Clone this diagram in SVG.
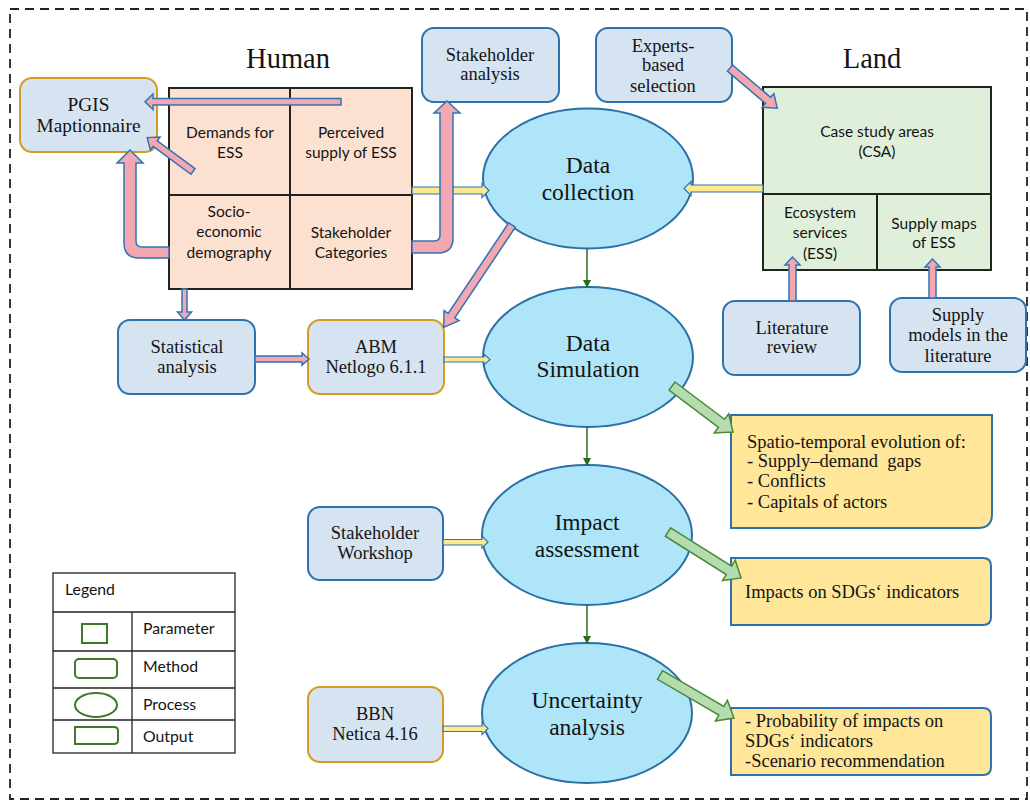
<svg xmlns="http://www.w3.org/2000/svg" width="1030" height="801" viewBox="0 0 1030 801">
<style>
.sr{font-family:"Liberation Serif",serif;fill:#141414;text-anchor:middle}
.b{font-size:18.5px}
.e{font-size:23.5px}
.sn{font-family:Lato,"Liberation Sans",sans-serif;fill:#141414;text-anchor:middle;font-size:15.5px}
.out{font-family:"Liberation Serif",serif;fill:#141414;font-size:18.5px}
.lg{font-family:Lato,"Liberation Sans",sans-serif;fill:#141414;font-size:15.8px}
.box{fill:#d6e3f1;stroke:#2e72ad;stroke-width:2}
.obox{fill:#d6e3f1;stroke:#d69b1e;stroke-width:2}
.ell{fill:#aee5f8;stroke:#2a6fa5;stroke-width:2}
.hum{fill:#fde1d0;stroke:#222;stroke-width:2}
.land{fill:#e0efd9;stroke:#222;stroke-width:2}
.res{fill:#ffe699;stroke:#2e72ad;stroke-width:2}
.pk{fill:#f4a7b0;stroke:#2e75b6;stroke-width:1.5}
.yl{fill:#fde98e;stroke:#2e75b6;stroke-width:1.2}
.gb{fill:#b5dcae;stroke:#4a8a3a;stroke-width:1.5}
.gl{stroke:#2d6a1e;stroke-width:1.5;fill:none}
.lgs{fill:none;stroke:#3a7a2a;stroke-width:2}
.cell{fill:none;stroke:#222;stroke-width:1.3}
</style>
<defs>
<marker id="ga" markerWidth="8" markerHeight="8" refX="7" refY="4" orient="auto" markerUnits="userSpaceOnUse"><path d="M0,0 L8,4 L0,8 Z" fill="#2d6a1e"/></marker>
</defs>
<rect x="10" y="9" width="1017" height="790" fill="none" stroke="#222" stroke-width="1.8" stroke-dasharray="9,6"/>
<text class="sr" x="288" y="68" font-size="28.5">Human</text>
<text class="sr" x="872" y="68" font-size="28.5">Land</text>

<g id="human-grid">
<rect class="hum" x="169" y="88" width="243" height="201"/>
<line x1="290" y1="88" x2="290" y2="289" stroke="#222" stroke-width="2"/>
<line x1="169" y1="195" x2="412" y2="195" stroke="#222" stroke-width="2"/>
<text class="sn" x="230" y="138">Demands for</text><text class="sn" x="230" y="158">ESS</text>
<text class="sn" x="351" y="138">Perceived</text><text class="sn" x="351" y="158">supply of ESS</text>
<text class="sn" x="229" y="217">Socio-</text><text class="sn" x="229" y="237">economic</text><text class="sn" x="229" y="258">demography</text>
<text class="sn" x="351" y="238">Stakeholder</text><text class="sn" x="351" y="258">Categories</text>
</g>

<g id="land-grid">
<rect class="land" x="763" y="87" width="228" height="183"/>
<line x1="763" y1="194" x2="991" y2="194" stroke="#222" stroke-width="2"/>
<line x1="877" y1="194" x2="877" y2="270" stroke="#222" stroke-width="2"/>
<text class="sn" x="877" y="137">Case study areas</text><text class="sn" x="877" y="157">(CSA)</text>
<text class="sn" x="820" y="218">Ecosystem</text><text class="sn" x="820" y="238">services</text><text class="sn" x="820" y="259">(ESS)</text>
<text class="sn" x="934" y="229">Supply maps</text><text class="sn" x="934" y="248">of ESS</text>
</g>

<g id="pgis"><rect class="obox" x="20" y="78" width="137" height="74" rx="12"/>
<text class="sr" x="88.5" y="111" font-size="19.3">PGIS</text><text class="sr" x="88.5" y="132" font-size="19.3">Maptionnaire</text></g>
<g id="stakeholder-analysis"><rect class="box" x="422" y="28" width="137" height="74" rx="12"/>
<text class="sr b" x="490" y="61">Stakeholder</text><text class="sr b" x="490" y="80">analysis</text></g>
<g id="experts"><rect class="box" x="596" y="28" width="136" height="74" rx="12"/>
<text class="sr b" x="663" y="52">Experts-</text><text class="sr b" x="663" y="71">based</text><text class="sr b" x="663" y="92">selection</text></g>
<g id="data-collection"><ellipse class="ell" cx="588" cy="178.5" rx="105" ry="70"/>
<text class="sr e" x="588" y="173">Data</text><text class="sr e" x="588" y="200">collection</text></g>
<g id="statistical"><rect class="box" x="118" y="320" width="137" height="74" rx="12"/>
<text class="sr b" x="187" y="353">Statistical</text><text class="sr b" x="187" y="373">analysis</text></g>
<g id="abm"><rect class="obox" x="308" y="320" width="136" height="74" rx="12"/>
<text class="sr b" x="376" y="353">ABM</text><text class="sr b" x="376" y="373">Netlogo 6.1.1</text></g>
<g id="data-simulation"><ellipse class="ell" cx="588" cy="357" rx="105" ry="70"/>
<text class="sr e" x="588" y="351">Data</text><text class="sr e" x="588" y="377">Simulation</text></g>
<g id="literature-review"><rect class="box" x="723" y="301" width="137" height="74" rx="12"/>
<text class="sr b" x="792" y="334">Literature</text><text class="sr b" x="792" y="353">review</text></g>
<g id="supply-models"><rect class="box" x="890" y="298" width="136" height="74" rx="12"/>
<text class="sr b" x="958" y="321">Supply</text><text class="sr b" x="958" y="341">models in the</text><text class="sr b" x="958" y="362">literature</text></g>
<g id="output-spatio"><path class="res" d="M731,415 H992 V514 Q992,528 978,528 H731 Z"/>
<text class="out" x="747" y="448">Spatio-temporal evolution of:</text>
<text class="out" x="747" y="467" style="white-space:pre">- Supply–demand  gaps</text>
<text class="out" x="747" y="487">- Conflicts</text>
<text class="out" x="747" y="508">- Capitals of actors</text></g>
<g id="workshop"><rect class="box" x="308" y="507" width="135" height="73" rx="12"/>
<text class="sr b" x="375" y="539">Stakeholder</text><text class="sr b" x="375" y="559">Workshop</text></g>
<g id="impact"><ellipse class="ell" cx="587" cy="535" rx="105" ry="70"/>
<text class="sr e" x="587" y="530">Impact</text><text class="sr e" x="587" y="557">assessment</text></g>
<g id="output-impacts"><path class="res" d="M731,558 H983 Q991,558 991,566 V617 Q991,625 983,625 H731 Z"/>
<text class="out" x="745" y="598">Impacts on SDGs‘ indicators</text></g>
<g id="bbn"><rect class="obox" x="308" y="687" width="135" height="75" rx="12"/>
<text class="sr b" x="375" y="720">BBN</text><text class="sr b" x="375" y="740">Netica 4.16</text></g>
<g id="uncertainty"><ellipse class="ell" cx="587" cy="713" rx="105" ry="70"/>
<text class="sr e" x="587" y="708">Uncertainty</text><text class="sr e" x="587" y="735">analysis</text></g>
<g id="output-probability"><path class="res" d="M731,708 H983 Q991,708 991,716 V767 Q991,775 983,775 H731 Z"/>
<text class="out" x="745" y="727">- Probability of impacts on</text>
<text class="out" x="745" y="747">SDGs‘ indicators</text>
<text class="out" x="745" y="767">-Scenario recommendation</text></g>

<g id="legend">
<rect class="cell" x="53" y="573" width="182" height="180"/>
<line class="cell" x1="53" y1="612" x2="235" y2="612"/>
<line class="cell" x1="53" y1="651" x2="235" y2="651"/>
<line class="cell" x1="53" y1="688" x2="235" y2="688"/>
<line class="cell" x1="53" y1="720" x2="235" y2="720"/>
<line class="cell" x1="132" y1="612" x2="132" y2="753"/>
<text class="lg" x="65" y="595">Legend</text>
<rect class="lgs" x="82" y="624" width="25" height="19"/>
<rect class="lgs" x="75" y="659" width="42" height="19" rx="4"/>
<ellipse class="lgs" cx="96" cy="705" rx="21" ry="12"/>
<path class="lgs" d="M75,727 H114 Q118,727 118,731 V740 Q118,744 114,744 H75 Z"/>
<text class="lg" x="143" y="634">Parameter</text>
<text class="lg" x="143" y="672">Method</text>
<text class="lg" x="143" y="710">Process</text>
<text class="lg" x="143" y="742">Output</text>
</g>

<g id="connectors">
<polygon class="yl" points="412,187 482,187 482,183.5 489,190.5 482,197.5 482,194 412,194"/>
<polygon class="yl" points="763,185 691,185 691,181.5 684,188.5 691,195.5 691,192 763,192"/>
<polygon class="yl" points="444,357 484,357 484,354 490,359.5 484,365 484,362 444,362"/>
<polygon class="yl" points="443,539.5 482,539.5 482,536 488,542 482,548 482,545 443,545"/>
<polygon class="yl" points="443,726 482,726 482,722.5 488,728.5 482,734.5 482,731.5 443,731.5"/>
<polygon class="pk" points="341,98.5 153,98.5 153,94 145,101.75 153,109.5 153,105 341,105"/>
<polygon class="pk" points="0,-3.5 -47,-3.5 -47,-8 -57,0 -47,8 -47,3.5 0,3.5" transform="translate(193,171.5) rotate(36.5)"/>
<path class="pk" d="M169,247 L142,247 Q136,247 136,241 L136,163 L143,163 L130,150 L117,163 L124,163 L124,243 Q124,258 139,258 L169,258 Z"/>
<path class="pk" d="M412,241 L434,241 Q440,241 440,235 L440,113 L434,113 L447,101 L460,113 L453,113 L453,238 Q453,253 438,253 L412,253 Z"/>
<polygon class="pk" points="182,289 182,312 177.5,312 184.5,320 191.5,312 187,312 187,289"/>
<polygon class="pk" points="255,356 302,356 302,353 309,359 302,365 302,362 255,362"/>
<polygon class="pk" points="0,-4 50,-4 50,-9 62,0 50,9 50,4 0,4" transform="translate(730,68) rotate(40.4)"/>
<polygon class="pk" points="0,-4 109,-4 109,-9 123,0 109,9 109,4 0,4" transform="translate(512,225) rotate(123.7)"/>
<polygon class="pk" points="789,301 789,265 785,265 792.5,257 800,265 796,265 796,301"/>
<polygon class="pk" points="929,298 929,267 925,267 932.5,259 940,267 936,267 936,298"/>
<polygon class="gb" points="0,-5 62,-5 62,-12 76.4,0 62,12 62,5 0,5" transform="translate(672,386) rotate(37)"/>
<polygon class="gb" points="0,-5 72,-5 72,-12 86.3,0 72,12 72,5 0,5" transform="translate(668,532) rotate(32.2)"/>
<polygon class="gb" points="0,-5 71,-5 71,-12 85.6,0 71,12 71,5 0,5" transform="translate(660,675) rotate(30.2)"/>
<line class="gl" x1="587" y1="248.5" x2="587" y2="287" marker-end="url(#ga)"/>
<line class="gl" x1="587" y1="427" x2="587" y2="465" marker-end="url(#ga)"/>
<line class="gl" x1="587" y1="605" x2="587" y2="643" marker-end="url(#ga)"/>
</g>
</svg>
